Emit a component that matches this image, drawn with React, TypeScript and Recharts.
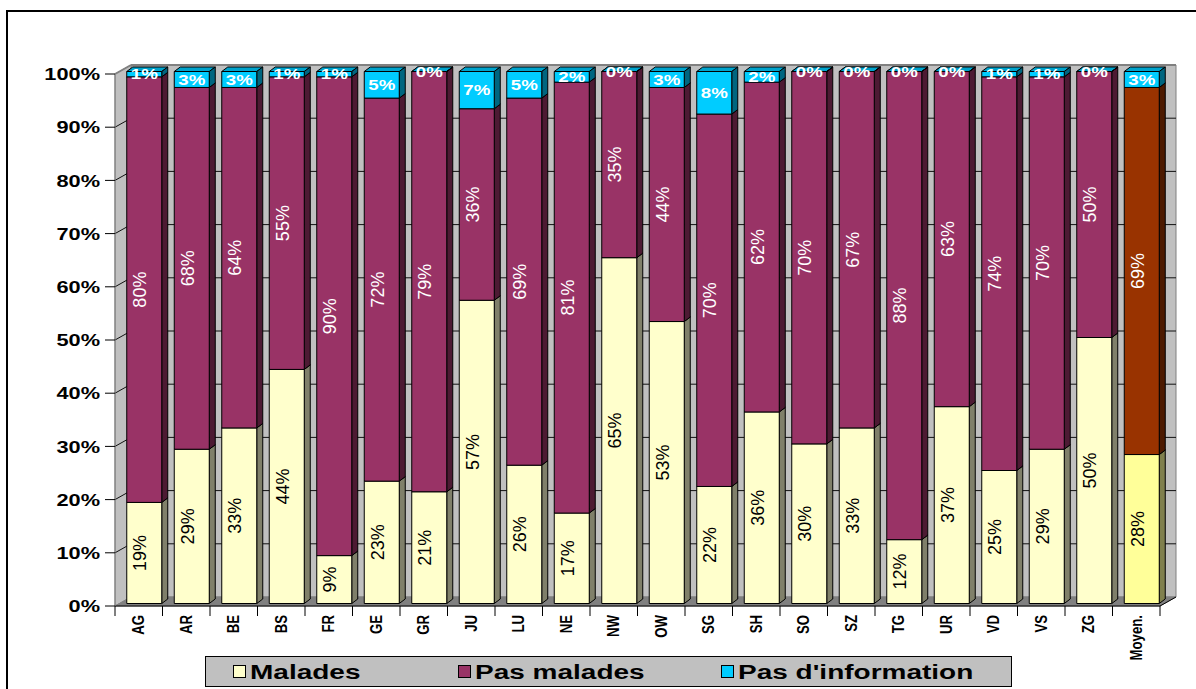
import { BarChart, Bar, XAxis, YAxis, ReferenceArea, LabelList, Cell } from "recharts";

const CANTONS = ["AG", "AR", "BE", "BS", "FR", "GE", "GR", "JU", "LU", "NE", "NW", "OW", "SG", "SH", "SO", "SZ", "TG", "UR", "VD", "VS", "ZG", "Moyen."];
const MALADES = [19, 29, 33, 44, 9, 23, 21, 57, 26, 17, 65, 53, 22, 36, 30, 33, 12, 37, 25, 29, 50, 28];
const PAS_MALADES = [80, 68, 64, 55, 90, 72, 79, 36, 69, 81, 35, 44, 70, 62, 70, 67, 88, 63, 74, 70, 50, 69];
const PAS_INFO = [1, 3, 3, 1, 1, 5, 0, 7, 5, 2, 0, 3, 8, 2, 0, 0, 0, 0, 1, 1, 0, 3];
const PCT_TICKS = [0, 10, 20, 30, 40, 50, 60, 70, 80, 90, 100];
const LEGEND_LABELS = ["Malades", "Pas malades", "Pas d'information"];

const data = CANTONS.map((name, i) => ({
  name,
  malades: MALADES[i],
  pasMalades: PAS_MALADES[i],
  pasInfo: PAS_INFO[i],
}));

const W = 1196;
const H = 689;
// front plane of the axes
const PLOT_LEFT = 115;
const PLOT_RIGHT = 1160;
const PLOT_TOP = 74;
const PLOT_BOTTOM = 606;
const Y_AXIS_W = 100;
const X_AXIS_H = 60;
const HALF_BAND = (PLOT_RIGHT - PLOT_LEFT) / CANTONS.length / 2;

// 3D offsets: back wall, bar position in depth, bar thickness
const WALL_DX = 16;
const WALL_DY = -9;
const SHIFT_X = 5.75;
const SHIFT_Y = -2.5;
const DEPTH_X = 6;
const DEPTH_Y = 4.5;

const FONT = "'Liberation Sans', Arial, sans-serif";

const MALADES_FILL = "#FFFFCC";
const PAS_MALADES_FILL = "#993366";
const INFO_FILL = "#00CCFF";
const MOYEN_MALADES_FILL = "#FFFF99";
const MOYEN_PAS_MALADES_FILL = "#993300";
const LEGEND_FILLS = [MALADES_FILL, PAS_MALADES_FILL, INFO_FILL];

const SHADES: Record<string, { side: string; top: string }> = {
  [MALADES_FILL]: { side: "#80806A", top: "#CCCCA3" },
  [MOYEN_MALADES_FILL]: { side: "#80804D", top: "#CCCC7A" },
  [PAS_MALADES_FILL]: { side: "#4D1A33", top: "#7A2952" },
  [MOYEN_PAS_MALADES_FILL]: { side: "#4D1A00", top: "#7A2900" },
  [INFO_FILL]: { side: "#006680", top: "#00A3CC" },
};

function Block(props: any) {
  const { x, y, width, height, fill } = props;
  if (x == null || y == null) return null;
  const fx = x + SHIFT_X;
  const fy = y + SHIFT_Y;
  const h = Math.max(height || 0, 0);
  const shade = SHADES[fill] || { side: "#444", top: "#888" };
  const r = fx + width;
  const top = `${fx},${fy} ${fx + DEPTH_X},${fy - DEPTH_Y} ${r + DEPTH_X},${fy - DEPTH_Y} ${r},${fy}`;
  const side = `${r},${fy} ${r + DEPTH_X},${fy - DEPTH_Y} ${r + DEPTH_X},${fy + h - DEPTH_Y} ${r},${fy + h}`;
  return (
    <g stroke="#000" strokeWidth={1} strokeLinejoin="round">
      <polygon points={top} fill={shade.top} />
      <polygon points={side} fill={shade.side} />
      <rect x={fx} y={fy} width={width} height={h} fill={fill} />
    </g>
  );
}

function Walls(props: any) {
  const { x, y, width, height } = props;
  if (x == null) return null;
  const bottom = y + height;
  const bx = x + WALL_DX;
  const back = `${bx},${y + WALL_DY} ${bx + width},${y + WALL_DY} ${bx + width},${bottom + WALL_DY} ${bx},${bottom + WALL_DY}`;
  const left = `${x},${y} ${bx},${y + WALL_DY} ${bx},${bottom + WALL_DY} ${x},${bottom}`;
  const floor = `${x},${bottom} ${bx},${bottom + WALL_DY} ${bx + width},${bottom + WALL_DY} ${x + width},${bottom}`;
  return (
    <g>
      <polygon points={back} fill="#C0C0C0" stroke="#808080" strokeWidth={1} />
      <polygon points={left} fill="#C0C0C0" stroke="#808080" strokeWidth={1} />
      <polygon points={floor} fill="#808080" stroke="#808080" strokeWidth={1} />
      {PCT_TICKS.filter((t) => t > 0 && t < 100).map((t) => {
        const yy = bottom - (height * t) / 100;
        return (
          <g key={t} stroke="#111" strokeWidth={1}>
            <line x1={x} y1={yy} x2={bx} y2={yy + WALL_DY} />
            <line x1={bx} y1={yy + WALL_DY} x2={bx + width} y2={yy + WALL_DY} />
          </g>
        );
      })}
      <line x1={x} y1={y} x2={bx} y2={y + WALL_DY} stroke="#808080" strokeWidth={2} />
      <line x1={bx} y1={y + WALL_DY} x2={bx + width} y2={y + WALL_DY} stroke="#808080" strokeWidth={2} />
      <line x1={x + width} y1={bottom} x2={bx + width} y2={bottom + WALL_DY} stroke="#000" strokeWidth={1} />
    </g>
  );
}

function box(p: any) {
  const vb = p.viewBox && p.viewBox.width != null ? p.viewBox : p;
  return { x: vb.x, y: vb.y, width: vb.width, height: vb.height };
}

// vertical percentage inside the front face of a segment
function rotatedLabel(color: string) {
  return (p: any) => {
    const { x, y, width, height } = box(p);
    if (x == null) return null;
    const cx = x + width / 2 + 1.5;
    const cy = y + height / 2 + SHIFT_Y;
    return (
      <text
        transform={`translate(${cx},${cy}) rotate(-90)`}
        textAnchor="middle"
        dy="0.36em"
        fill={color}
        fontSize={18}
        fontFamily={FONT}
      >
        {p.value}%
      </text>
    );
  };
}

function infoLabel(p: any) {
  const { x, y, width, height } = box(p);
  if (x == null) return null;
  const cx = x + width / 2 + SHIFT_X;
  const cy = y + height / 2 + SHIFT_Y;
  return (
    <text
      transform={`translate(${cx},${cy}) scale(1.29,1)`}
      textAnchor="middle"
      dy="0.36em"
      fill="#fff"
      fontSize={14.5}
      fontWeight="bold"
      fontFamily={FONT}
    >
      {p.value}%
    </text>
  );
}

function PctTick(props: any) {
  const { x, y, payload } = props;
  return (
    <text
      transform={`translate(${x},${y}) scale(1.28,1)`}
      textAnchor="end"
      dy="0.36em"
      fontSize={17}
      fontWeight="bold"
      fontFamily={FONT}
      fill="#000"
    >
      {payload.value}%
    </text>
  );
}

function CantonTick(props: any) {
  const { x, y, payload, index } = props;
  const half = HALF_BAND;
  const last = index === CANTONS.length - 1;
  return (
    <g>
      <line x1={x - half} y1={y} x2={x - half} y2={y + 10} stroke="#000" />
      {last && <line x1={x + half} y1={y} x2={x + half} y2={y + 10} stroke="#000" />}
      <text
        transform={`translate(${x - 0.5},${y + 9}) rotate(-90) scale(1,1.3)`}
        textAnchor="end"
        dy="0.36em"
        fontSize={13.2}
        fontWeight="bold"
        fontFamily={FONT}
        fill="#000"
      >
        {payload.value}
      </text>
    </g>
  );
}

function LegendBox() {
  const squares = [233, 458, 721];
  return (
    <svg width={W} height={H} style={{ position: "absolute", left: 0, top: 0, pointerEvents: "none" }}>
      <rect x={205.5} y={656.5} width={806} height={30} fill="#C0C0C0" stroke="#000" strokeWidth={1} />
      {LEGEND_LABELS.map((label, i) => (
        <g key={label}>
          <rect x={squares[i] + 0.5} y={665.5} width={12} height={12} fill={LEGEND_FILLS[i]} stroke="#000" />
          <text
            transform={`translate(${squares[i] + 17},${672}) scale(1.4,1)`}
            dy="0.36em"
            fontSize={20}
            fontWeight="bold"
            fontFamily={FONT}
            fill="#000"
          >
            {label}
          </text>
        </g>
      ))}
    </svg>
  );
}

export default function App() {
  const last = CANTONS.length - 1;
  return (
    <div style={{ position: "absolute", left: 0, top: 0, width: W, height: H, background: "#fff", fontFamily: FONT }}>
      <div
        style={{
          position: "absolute",
          left: 6,
          top: 10,
          width: W,
          height: H,
          borderLeft: "2px solid #000",
          borderTop: "2px solid #000",
        }}
      />
      <div style={{ position: "absolute", left: 0, top: 0 }}>
        <BarChart
          width={W}
          height={H}
          data={data}
          margin={{
            top: PLOT_TOP,
            right: W - PLOT_RIGHT,
            bottom: H - PLOT_BOTTOM - X_AXIS_H,
            left: PLOT_LEFT - Y_AXIS_W,
          }}
        >
          <ReferenceArea y1={0} y2={100} shape={<Walls />} ifOverflow="visible" />
          <XAxis
            dataKey="name"
            height={X_AXIS_H}
            interval={0}
            tickLine={false}
            tickSize={0}
            tickMargin={0}
            axisLine={{ stroke: "#000" }}
            tick={<CantonTick />}
          />
          <YAxis
            type="number"
            domain={[0, 100]}
            ticks={PCT_TICKS}
            width={Y_AXIS_W}
            tickSize={10}
            tickMargin={5}
            tickLine={{ stroke: "#000" }}
            axisLine={{ stroke: "#808080" }}
            tick={<PctTick />}
          />
          <Bar dataKey="malades" stackId="a" barSize={35} shape={<Block />} isAnimationActive={false}>
            {data.map((_, i) => (
              <Cell key={i} fill={i === last ? MOYEN_MALADES_FILL : MALADES_FILL} />
            ))}
            <LabelList dataKey="malades" content={rotatedLabel("#000")} />
          </Bar>
          <Bar dataKey="pasMalades" stackId="a" barSize={35} shape={<Block />} isAnimationActive={false}>
            {data.map((_, i) => (
              <Cell key={i} fill={i === last ? MOYEN_PAS_MALADES_FILL : PAS_MALADES_FILL} />
            ))}
            <LabelList dataKey="pasMalades" content={rotatedLabel("#fff")} />
          </Bar>
          <Bar dataKey="pasInfo" stackId="a" barSize={35} fill={INFO_FILL} shape={<Block />} isAnimationActive={false}>
            <LabelList dataKey="pasInfo" content={infoLabel} />
          </Bar>
        </BarChart>
      </div>
      <LegendBox />
    </div>
  );
}
